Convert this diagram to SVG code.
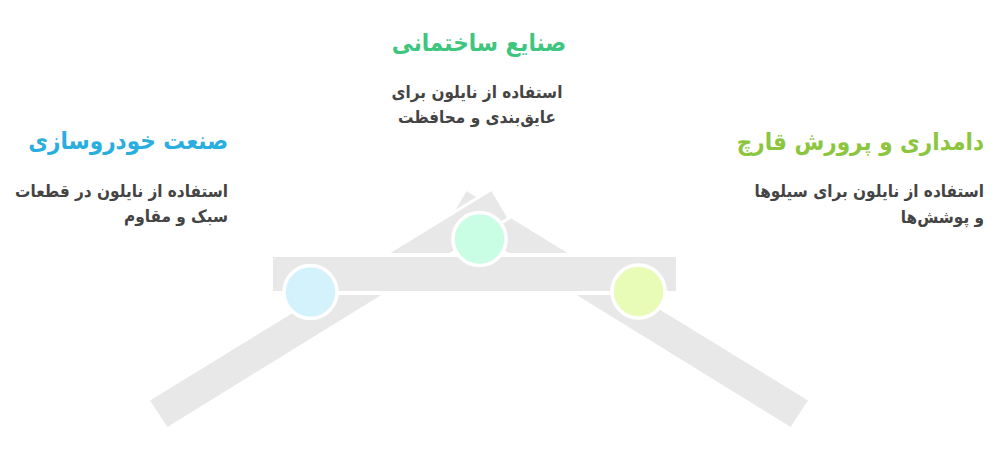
<svg xmlns="http://www.w3.org/2000/svg" width="1000" height="460" viewBox="0 0 1000 460">
<style>
.bar{fill:#e8e8e8;stroke:#ffffff;stroke-width:3;stroke-linejoin:miter}
.hbar{fill:#e8e8e8;stroke:#ffffff;stroke-width:4}
.dot{stroke:#ffffff;stroke-width:3.5}
.title{font-family:"DejaVu Sans Condensed","DejaVu Sans",sans-serif;font-stretch:condensed;font-weight:bold;font-size:24px}
.desc{font-family:"DejaVu Sans Condensed","DejaVu Sans",sans-serif;font-stretch:condensed;font-weight:bold;font-size:17px;fill:#444444}
</style>
<rect width="1000" height="460" fill="#ffffff"/>
<g id="connectors">
<polygon class="bar" points="810,400 791,429 449,218 466,189"/>
<polygon class="bar" points="148,400 167,429 509,218 492,189"/>
<rect class="hbar" x="271" y="255" width="407" height="38"/>
</g>
<g id="node-automotive">
<circle class="dot" cx="310.5" cy="292" r="26.5" fill="#d4f2fc"/>
<text class="title" x="228" y="149" text-anchor="end" fill="#2aaee0">صنعت خودروسازی</text>
<text class="desc" x="228" y="197" text-anchor="end">استفاده از نایلون در قطعات</text>
<text class="desc" x="228" y="222" text-anchor="end">سبک و مقاوم</text>
</g>
<g id="node-construction">
<circle class="dot" cx="479.5" cy="239" r="26.5" fill="#c9fde4"/>
<text class="title" x="479" y="51" text-anchor="middle" fill="#3ec67f">صنایع ساختمانی</text>
<text class="desc" x="477" y="98" text-anchor="middle">استفاده از نایلون برای</text>
<text class="desc" x="477" y="123" text-anchor="middle">عایق‌بندی و محافظت</text>
</g>
<g id="node-livestock">
<circle class="dot" cx="638.5" cy="291.5" r="26.5" fill="#e8fcb8"/>
<text class="title" x="984" y="150" text-anchor="end" fill="#8cc63f">دامداری و پرورش قارچ</text>
<text class="desc" x="984" y="197" text-anchor="end">استفاده از نایلون برای سیلوها</text>
<text class="desc" x="984" y="223" text-anchor="end">و پوشش‌ها</text>
</g>
</svg>
